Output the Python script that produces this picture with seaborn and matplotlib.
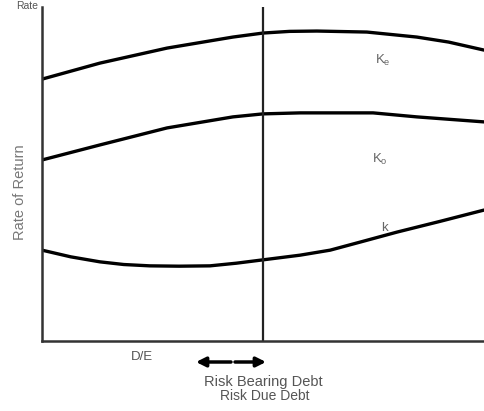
import pandas as pd
import matplotlib
matplotlib.use('Agg')
import matplotlib.pyplot as plt
import seaborn as sns

# D/E on x (0-100), rate of return on y (0-100)
ke_x = [0, 13.1, 28.3, 43.2, 50.0, 56.0, 62.2, 73.5, 84.8, 92.0, 100]
ke_y = [78.4, 83.2, 87.7, 91.0, 92.2, 92.7, 92.8, 92.5, 91.0, 89.5, 87.1]
ko_x = [0, 13.1, 28.3, 43.2, 50.0, 58.4, 65.8, 74.9, 84.8, 100]
ko_y = [54.2, 58.7, 63.8, 67.1, 68.0, 68.3, 68.3, 68.3, 67.1, 65.6]
k_x = [0, 6.5, 13.1, 18.5, 24.4, 31.0, 38.0, 44.0, 50.0, 58.4, 65.2, 72.5, 80.3, 90.0, 100]
k_y = [27.2, 25.2, 23.7, 22.9, 22.5, 22.4, 22.5, 23.3, 24.3, 25.7, 27.2, 29.8, 32.6, 35.8, 39.2]
vline_x = 50
curve_labels = ['K$_\\mathregular{e}$', 'K$_\\mathregular{o}$', 'k']
label_pos = [(77.0, 84.1), (76.5, 54.5), (77.5, 33.8)]

sns.set_style('white')
plt.rcParams['font.family'] = ['Liberation Sans', 'DejaVu Sans']

df = pd.concat([
    pd.DataFrame({'x': ke_x, 'y': ke_y, 'curve': 'Ke'}),
    pd.DataFrame({'x': ko_x, 'y': ko_y, 'curve': 'Ko'}),
    pd.DataFrame({'x': k_x, 'y': k_y, 'curve': 'k'}),
])

W, H = 484, 411
fig = plt.figure(figsize=(W / 100, H / 100), dpi=100)
ax = fig.add_axes([42 / W, (H - 341) / H, (W - 42) / W, (341 - 7) / H])

# curves
sns.lineplot(data=df, x='x', y='y', units='curve', estimator=None, color='black',
             linewidth=2.4, sort=False, ax=ax, legend=False)
ax.axvline(vline_x, color='#222222', linewidth=1.6)

ax.set_xlim(0, 100)
ax.set_ylim(0, 100)
ax.set_xticks([])
ax.set_yticks([])
ax.set_xlabel('')
ax.set_ylabel('')
for s in ['top', 'right']:
    ax.spines[s].set_visible(False)
for s in ['left', 'bottom']:
    ax.spines[s].set_color('#333333')
    ax.spines[s].set_linewidth(1.8)

# curve labels
for lab, (lx, ly) in zip(curve_labels, label_pos):
    ax.text(lx, ly, lab, fontsize=9.5, color='#666666', ha='center', va='center')

txt = '#555555'
fig.text(20 / W, 1 - 192 / H, 'Rate of Return', rotation=90, fontsize=10.5,
         color='#777777', ha='center', va='center')
fig.text(27 / W, 1 - 1 / H, 'Rate', fontsize=7.5, color=txt, ha='center', va='top')
fig.text(142 / W, 1 - 357 / H, 'D/E', fontsize=9.5, color=txt, ha='center', va='center')
fig.text(263 / W, 1 - 382 / H, 'Risk Bearing Debt', fontsize=10.5, color=txt,
         ha='center', va='center')
fig.text(265 / W, 1 - 396 / H, 'Risk Due Debt', fontsize=10, color=txt,
         ha='center', va='center')

# arrows under the axis
arrow = dict(arrowstyle='-|>', lw=2.5, color='black', mutation_scale=14,
             shrinkA=0, shrinkB=0)
ax.annotate('', xy=(196, H - 362), xytext=(231, H - 362), xycoords='figure pixels',
            textcoords='figure pixels', arrowprops=arrow, annotation_clip=False)
ax.annotate('', xy=(266, H - 362), xytext=(235, H - 362), xycoords='figure pixels',
            textcoords='figure pixels', arrowprops=arrow, annotation_clip=False)

plt.savefig('out.png', dpi=100)
